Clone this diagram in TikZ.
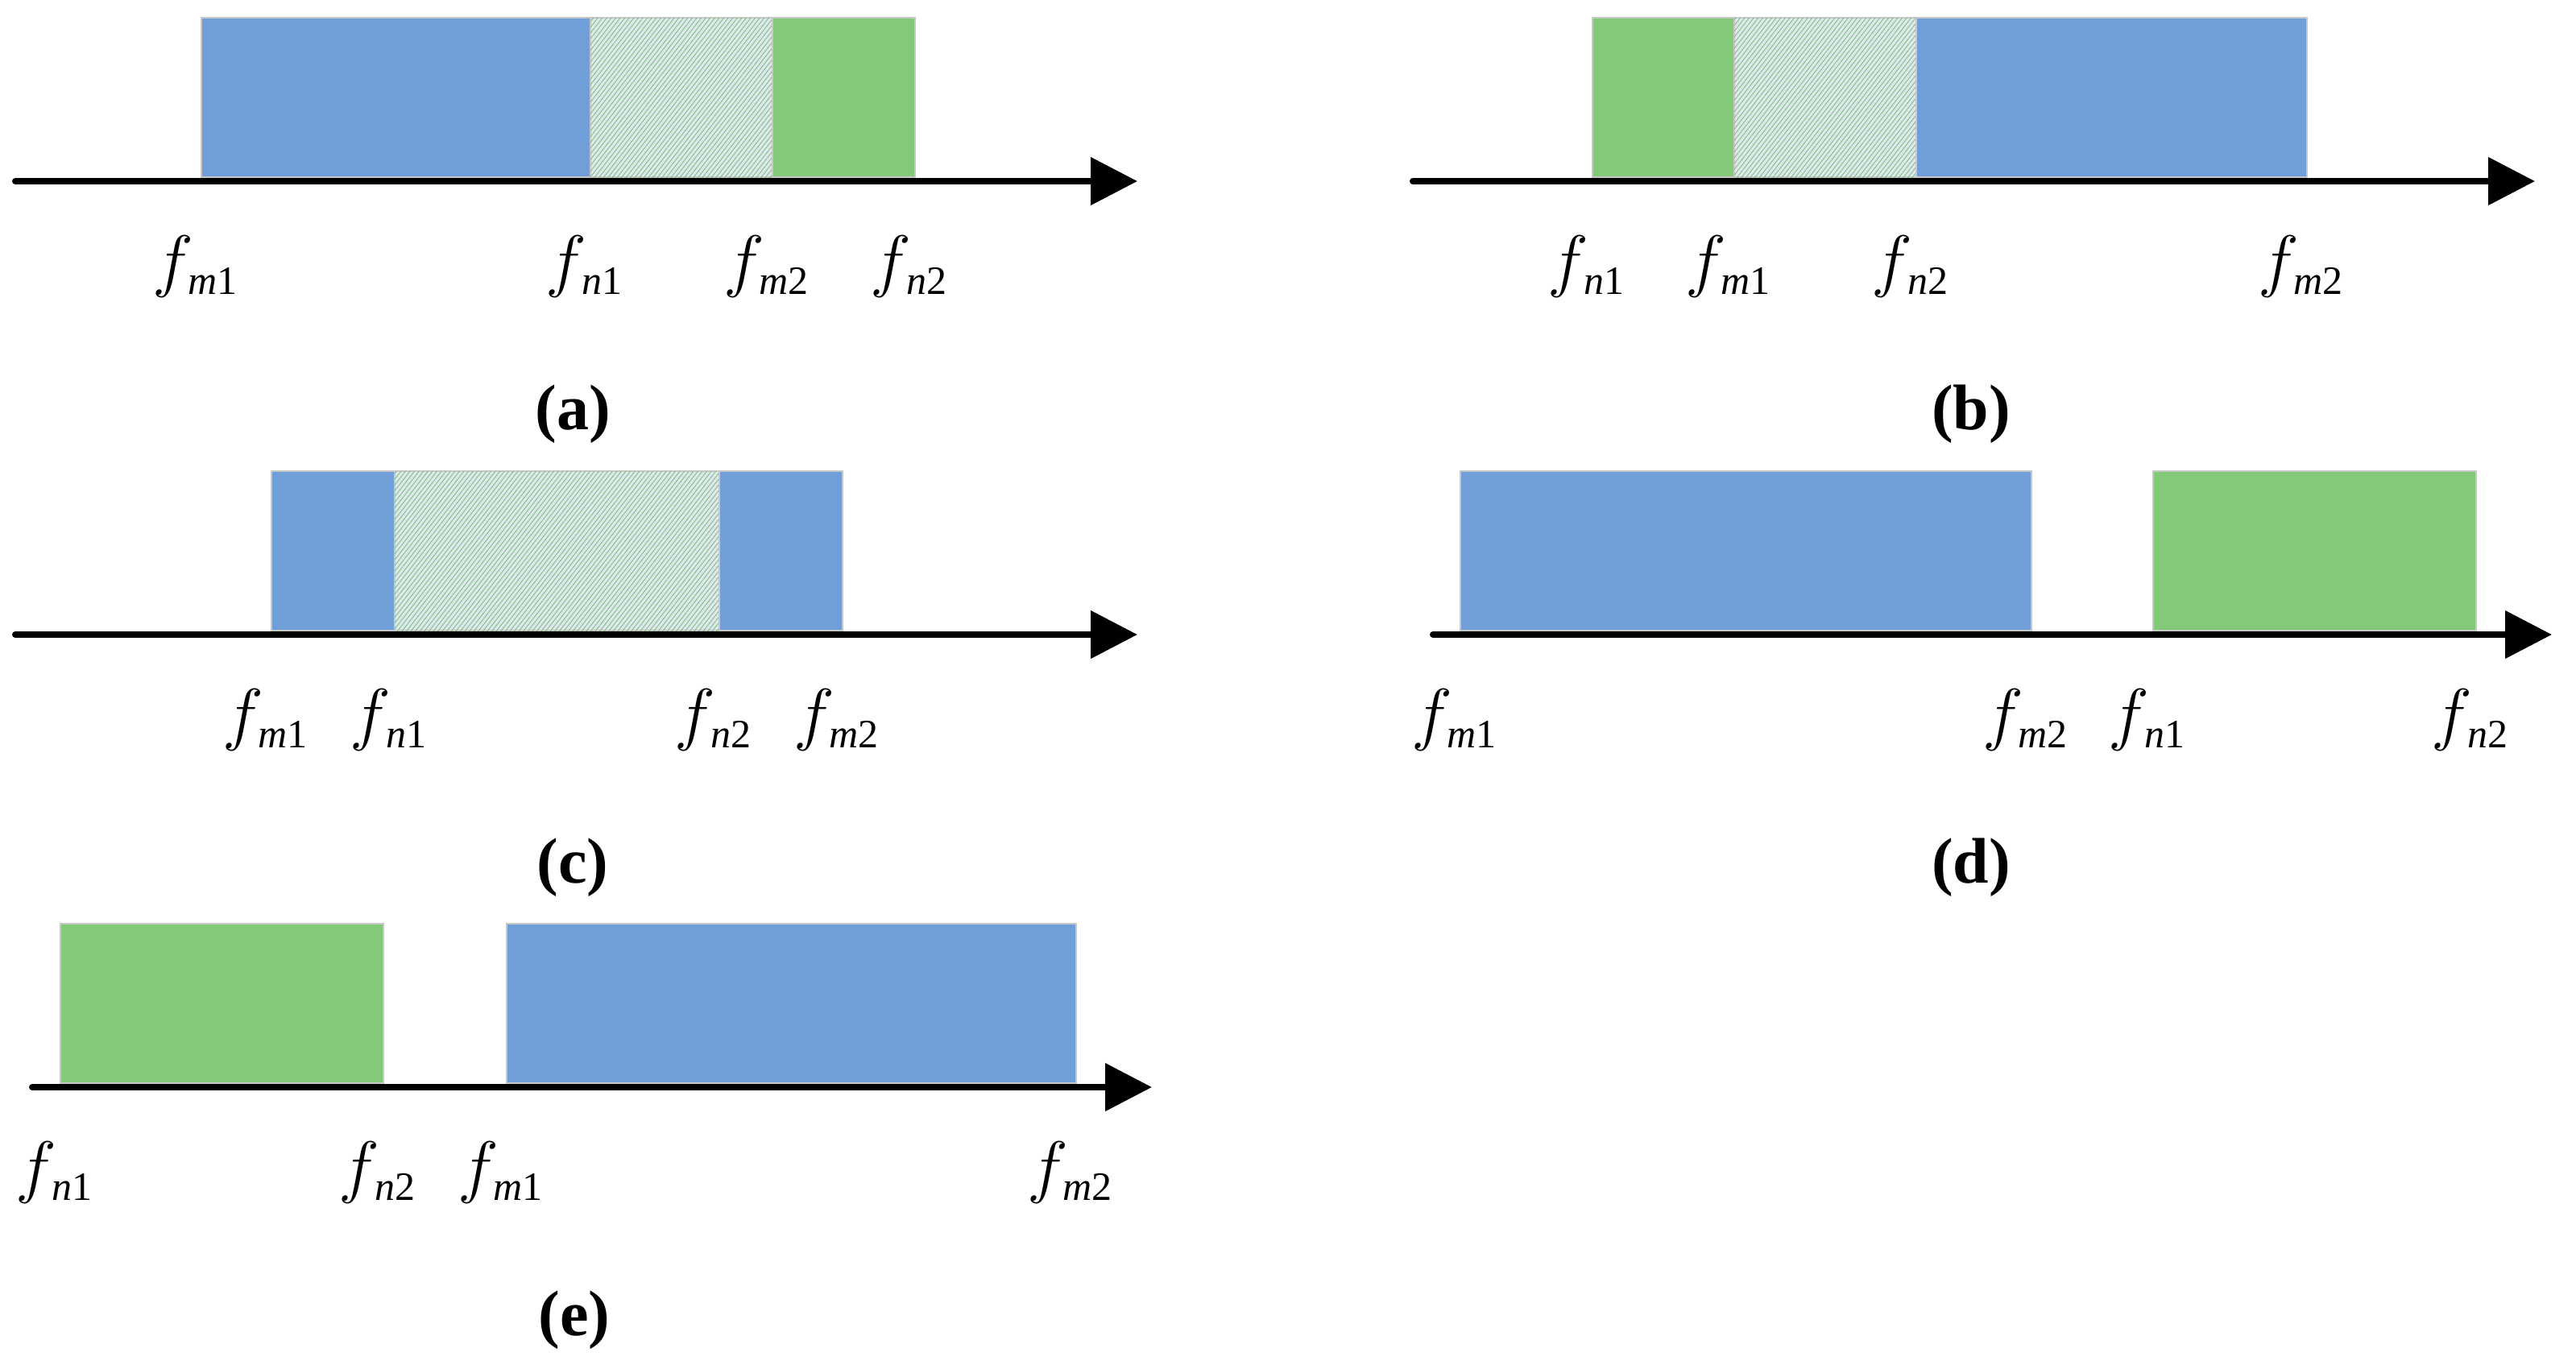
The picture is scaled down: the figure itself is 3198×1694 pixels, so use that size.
\RequirePackage{fix-cm}
\documentclass[tikz,border=0pt]{standalone}
\usepackage{fontspec}
\setmainfont{Liberation Serif}
\usetikzlibrary{arrows.meta,patterns.meta}
\definecolor{bblue}{HTML}{6F9ED8}
\definecolor{bgreen}{HTML}{84C87A}
\definecolor{hbg}{HTML}{DDE7EE}
\definecolor{hline}{HTML}{6DB765}
\definecolor{edgegray}{HTML}{C8C8C8}
\newcommand\flab[2]{{\fontsize{43pt}{43pt}\selectfont$f$}\kern -3pt\raisebox{-6.5pt}{\fontsize{25pt}{25pt}\selectfont\textit{#1}#2}}
\tikzset{
  bluebox/.style={fill=bblue, draw=edgegray, line width=1pt},
  greenbox/.style={fill=bgreen, draw=edgegray, line width=1pt},
  hatchbox/.style={fill=hbg, draw=edgegray, line width=1pt,
    postaction={pattern={Lines[angle=52,distance=2.2pt,line width=0.35pt]}, pattern color=hline}},
  axisline/.style={line width=4pt, line cap=round, -{Triangle[length=29pt,width=29pt]}},
  flabel/.style={inner sep=0pt, anchor=base},
  captext/.style={inner sep=0pt, anchor=base, font=\fontsize{40pt}{40pt}\selectfont\bfseries}
}
\begin{document}
\begin{tikzpicture}[x=0.5pt,y=-0.5pt]
\useasboundingbox (0,0) rectangle (3198,1694);
% ---------- (a)
\draw[bluebox] (250,22) rectangle (733,220);
\draw[hatchbox] (733,22) rectangle (959,220);
\draw[greenbox] (959,22) rectangle (1136,220);
\coordinate (a0) at (19,225);
\coordinate (a1) at (1412,225);
\draw[axisline] (a0) -- (a1);
\node[flabel] (am1) at (242,352) {\flab{m}{1}};
\node[flabel] (an1) at (725,352) {\flab{n}{1}};
\node[flabel] (am2) at (951,352) {\flab{m}{2}};
\node[flabel] (an2) at (1128,352) {\flab{n}{2}};
\node[captext] (capa) at (711,533) {(a)};
% ---------- (b)
\draw[greenbox] (1977,22) rectangle (2153,220);
\draw[hatchbox] (2153,22) rectangle (2379,220);
\draw[bluebox] (2379,22) rectangle (2864,220);
\coordinate (b0) at (1754,225);
\coordinate (b1) at (3147,225);
\draw[axisline] (b0) -- (b1);
\node[flabel] (bn1) at (1969,352) {\flab{n}{1}};
\node[flabel] (bm1) at (2145,352) {\flab{m}{1}};
\node[flabel] (bn2) at (2371,352) {\flab{n}{2}};
\node[flabel] (bm2) at (2856,352) {\flab{m}{2}};
\node[captext] (capb) at (2447,533) {(b)};
% ---------- (c)
\draw[bluebox] (337,585) rectangle (490,783);
\draw[hatchbox] (490,585) rectangle (893,783);
\draw[bluebox] (893,585) rectangle (1046,783);
\coordinate (c0) at (19,788);
\coordinate (c1) at (1412,788);
\draw[axisline] (c0) -- (c1);
\node[flabel] (cm1) at (329,915) {\flab{m}{1}};
\node[flabel] (cn1) at (482,915) {\flab{n}{1}};
\node[flabel] (cn2) at (885,915) {\flab{n}{2}};
\node[flabel] (cm2) at (1038,915) {\flab{m}{2}};
\node[captext] (capc) at (711,1096) {(c)};
% ---------- (d)
\draw[bluebox] (1813,585) rectangle (2522,783);
\draw[greenbox] (2673,585) rectangle (3074,783);
\coordinate (d0) at (1779,788);
\coordinate (d1) at (3168,788);
\draw[axisline] (d0) -- (d1);
\node[flabel] (dm1) at (1805,915) {\flab{m}{1}};
\node[flabel] (dm2) at (2514,915) {\flab{m}{2}};
\node[flabel] (dn1) at (2665,915) {\flab{n}{1}};
\node[flabel] (dn2) at (3066,915) {\flab{n}{2}};
\node[captext] (capd) at (2447,1096) {(d)};
% ---------- (e)
\draw[greenbox] (75,1147) rectangle (476,1345);
\draw[bluebox] (629,1147) rectangle (1336,1345);
\coordinate (e0) at (40,1350);
\coordinate (e1) at (1430,1350);
\draw[axisline] (e0) -- (e1);
\node[flabel] (en1) at (67,1477) {\flab{n}{1}};
\node[flabel] (en2) at (468,1477) {\flab{n}{2}};
\node[flabel] (em1) at (621,1477) {\flab{m}{1}};
\node[flabel] (em2) at (1328,1477) {\flab{m}{2}};
\node[captext] (cape) at (713,1658) {(e)};
\end{tikzpicture}
\end{document}
